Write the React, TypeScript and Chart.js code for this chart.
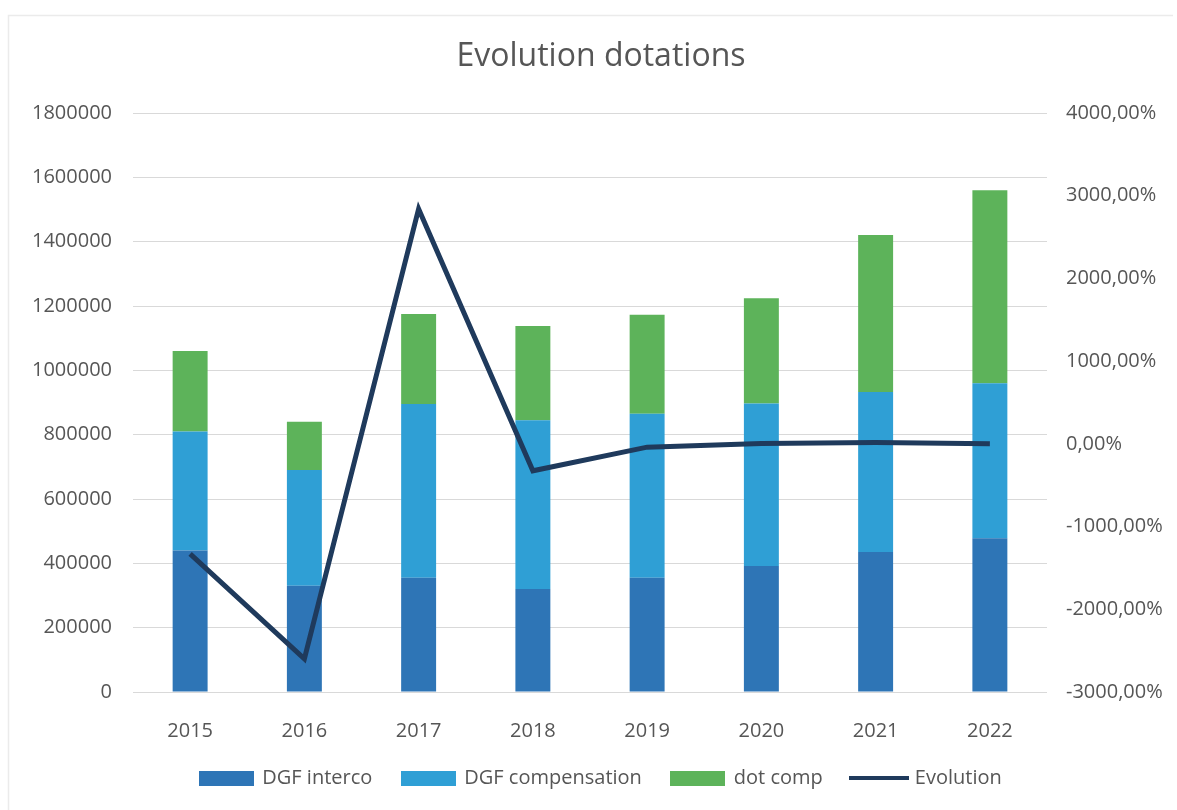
import React, { useEffect, useRef } from "react";
import { Chart, registerables } from "chart.js";

Chart.register(...registerables);

const years = ["2015", "2016", "2017", "2018", "2019", "2020", "2021", "2022"];
const dgfInterco = [440000, 330000, 355000, 320000, 355000, 392000, 435000, 478000];
const dgfCompensation = [370000, 360000, 540000, 525000, 510000, 505000, 498000, 482000];
const dotComp = [250000, 150000, 280000, 293000, 308000, 327000, 488000, 600000];
const evolution = [-1330, -2600, 2840, -326, -40, 5, 15, 0];

const COLORS = {
  interco: "#2E75B6",
  compensation: "#2F9FD5",
  dotComp: "#5DB35A",
  line: "#1F3A5C",
  text: "#565656",
  grid: "#D9D9D9",
  frame: "#EBEBEB",
};

const FONT = "'Open Sans', 'DejaVu Sans', sans-serif";

function makeSwatch(w: number, h: number, color: string) {
  const c = document.createElement("canvas");
  c.width = w;
  c.height = h;
  const ctx = c.getContext("2d")!;
  ctx.fillStyle = color;
  ctx.fillRect(0, 0, w, h);
  return c;
}

const framePlugin = {
  id: "frame",
  beforeDraw(chart: any) {
    const ctx = chart.ctx;
    ctx.save();
    ctx.strokeStyle = COLORS.frame;
    ctx.lineWidth = 1.5;
    ctx.beginPath();
    ctx.moveTo(8.5, chart.height);
    ctx.lineTo(8.5, 15.5);
    ctx.lineTo(chart.width - 4, 15.5);
    ctx.stroke();
    ctx.restore();
  },
};

export default function App() {
  const ref = useRef<HTMLCanvasElement | null>(null);

  useEffect(() => {
    document.body.style.margin = "0";
    const canvas = ref.current;
    if (!canvas) return;

    const swatches = [
      { text: "DGF interco", img: makeSwatch(55, 15, COLORS.interco), idx: 0 },
      { text: "DGF compensation", img: makeSwatch(55, 15, COLORS.compensation), idx: 1 },
      { text: "dot comp", img: makeSwatch(55, 15, COLORS.dotComp), idx: 2 },
      { text: "Evolution", img: makeSwatch(60, 4, COLORS.line), idx: 3 },
    ];

    const chart = new Chart(canvas, {
      type: "bar",
      data: {
        labels: years,
        datasets: [
          {
            type: "bar",
            label: "DGF interco",
            data: dgfInterco,
            backgroundColor: COLORS.interco,
            yAxisID: "y",
            stack: "s",
            order: 1,
            categoryPercentage: 1,
            barPercentage: 0.306,
          },
          {
            type: "bar",
            label: "DGF compensation",
            data: dgfCompensation,
            backgroundColor: COLORS.compensation,
            yAxisID: "y",
            stack: "s",
            order: 1,
            categoryPercentage: 1,
            barPercentage: 0.306,
          },
          {
            type: "bar",
            label: "dot comp",
            data: dotComp,
            backgroundColor: COLORS.dotComp,
            yAxisID: "y",
            stack: "s",
            order: 1,
            categoryPercentage: 1,
            barPercentage: 0.306,
          },
          {
            type: "line",
            label: "Evolution",
            data: evolution,
            borderColor: COLORS.line,
            backgroundColor: COLORS.line,
            borderWidth: 5,
            pointRadius: 0,
            tension: 0,
            yAxisID: "y1",
            order: 0,
          } as any,
        ],
      },
      options: {
        responsive: false,
        animation: false,
        layout: { padding: { left: 25, right: 0, top: 0, bottom: 12 } },
        plugins: {
          tooltip: { enabled: false },
          title: {
            display: true,
            text: "Evolution dotations",
            color: COLORS.text,
            font: { family: FONT, size: 32, weight: "normal" as any },
            padding: { top: 38, bottom: 36.6 },
          },
          legend: {
            display: true,
            position: "bottom",
            labels: {
              usePointStyle: true,
              pointStyleWidth: 52,
              boxHeight: 15,
              padding: 30,
              color: COLORS.text,
              font: { family: FONT, size: 20 },
              generateLabels: () =>
                swatches.map((s) => ({
                  text: s.text,
                  pointStyle: s.img as any,
                  fillStyle: "transparent",
                  strokeStyle: "transparent",
                  lineWidth: 0,
                  hidden: false,
                  datasetIndex: s.idx,
                  fontColor: COLORS.text,
                })),
            },
          },
        },
        scales: {
          x: {
            stacked: true,
            grid: { display: false },
            border: { display: false },
            ticks: {
              color: COLORS.text,
              font: { family: FONT, size: 20 },
              padding: 19,
              maxRotation: 0,
            },
            afterFit: (scale: any) => {
              scale.height = 46;
            },
          },
          y: {
            stacked: true,
            position: "left",
            min: 0,
            max: 1800000,
            grid: { color: COLORS.grid, lineWidth: 1, drawTicks: false },
            border: { display: false },
            ticks: {
              stepSize: 200000,
              color: COLORS.text,
              font: { family: FONT, size: 20 },
              padding: 21,
              callback: (v: any) => String(v),
            },
            afterFit: (scale: any) => {
              scale.width = 108;
            },
          },
          y1: {
            stacked: false,
            position: "right",
            min: -3000,
            max: 4000,
            grid: { display: false, drawTicks: false },
            border: { display: false },
            ticks: {
              stepSize: 1000,
              color: COLORS.text,
              font: { family: FONT, size: 20 },
              padding: 19,
              callback: (v: any) => Number(v).toFixed(2).replace(".", ",") + "%",
            },
            afterFit: (scale: any) => {
              scale.width = 130;
            },
          },
        },
      } as any,
      plugins: [framePlugin],
    });

    return () => {
      chart.destroy();
    };
  }, []);

  return (
    <div style={{ width: 1177, height: 810, background: "#ffffff" }}>
      <canvas ref={ref} width={1177} height={810} style={{ display: "block" }} />
    </div>
  );
}
